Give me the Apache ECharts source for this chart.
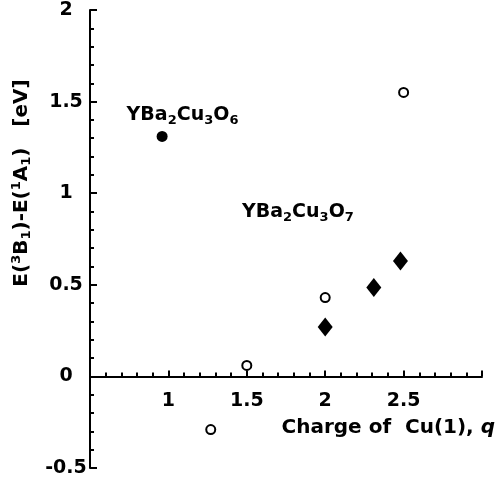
<!DOCTYPE html>
<html>
<head>
<meta charset="utf-8">
<script src="https://cdn.jsdelivr.net/npm/echarts@6/dist/echarts.min.js"></script>
<style>html,body{margin:0;padding:0;background:#fff}#c{width:497px;height:484px}</style>
</head>
<body>
<div id="c"></div>
<script>
// ---- data ----
const xRange = [0.5, 3.0];
const yRange = [-0.5, 2.0];
const xTickLabels = ['1', '1.5', '2', '2.5'];
const yTickLabels = ['-0.5', '0', '0.5', '1', '1.5', '2'];
const ybco6Points = [[0.96, 1.31]];                         // filled circle
const openCirclePoints = [[1.27, -0.29], [1.5, 0.06], [2.0, 0.43], [2.5, 1.55]];
const diamondPoints = [[2.0, 0.27], [2.31, 0.485], [2.48, 0.63]];
const annotationPositions = [[1.09, 1.425], [1.826, 0.895]];
const annotationTexts = [
  '{m|YBa}{s|2}{m|Cu}{s|3}{m|O}{s|6}',
  '{m|YBa}{s|2}{m|Cu}{s|3}{m|O}{s|7}'
];

const FONT = 'DejaVu Sans';
const GRID = {left: 90, right: 15, top: 10, bottom: 16};
const gridH = 484 - GRID.top - GRID.bottom;
// move x axis up to y = 0
const xAxisOffset = -gridH * (0 - yRange[0]) / (yRange[1] - yRange[0]);

const chemRich = {
  m: {fontFamily: FONT, fontWeight: 'bold', fontSize: 19, color: '#000'},
  s: {fontFamily: FONT, fontWeight: 'bold', fontSize: 13, color: '#000', padding: [10, 0, 0, 0]}
};

const chart = echarts.init(document.getElementById('c'));
chart.setOption({
  animation: false,
  backgroundColor: '#fff',
  grid: Object.assign({containLabel: false, outerBoundsMode: 'none'}, GRID),
  xAxis: {
    type: 'value', min: xRange[0], max: xRange[1], interval: 0.5,
    position: 'bottom', offset: xAxisOffset,
    axisLine: {onZero: false, lineStyle: {color: '#000', width: 2}},
    axisTick: {inside: true, length: 6, lineStyle: {color: '#000', width: 2}},
    minorTick: {show: true, splitNumber: 5, length: 4, lineStyle: {color: '#000', width: 2}},
    splitLine: {show: false},
    axisLabel: {
      margin: 15, color: '#000', fontFamily: FONT, fontWeight: 'bold', fontSize: 19,
      formatter: v => { const s = String(v); return xTickLabels.includes(s) ? s : ''; }
    }
  },
  yAxis: {
    type: 'value', min: yRange[0], max: yRange[1], interval: 0.5,
    axisLine: {onZero: false, lineStyle: {color: '#000', width: 2}},
    axisTick: {inside: true, length: 7, lineStyle: {color: '#000', width: 2}},
    minorTick: {show: true, splitNumber: 5, length: 4, lineStyle: {color: '#000', width: 2}},
    splitLine: {show: false},
    axisLabel: {
      margin: 24, align: 'center', padding: [4, 0, 0, 0], color: '#000', fontFamily: FONT, fontWeight: 'bold', fontSize: 19,
      formatter: v => { const s = String(v); return yTickLabels.includes(s) ? s : ''; }
    }
  },
  series: [
    {type: 'scatter', data: ybco6Points, symbol: 'circle', symbolSize: 11,
     itemStyle: {color: '#000', opacity: 1}},
    {type: 'scatter', data: openCirclePoints, symbol: 'circle', symbolSize: 9,
     itemStyle: {color: '#fff', borderColor: '#000', borderWidth: 2, opacity: 1}},
    {type: 'scatter', data: diamondPoints, symbol: 'diamond', symbolSize: [15, 19],
     itemStyle: {color: '#000', opacity: 1}},
    {type: 'scatter', symbolSize: 0, silent: true,
     data: annotationPositions.map((p, i) => ({value: p, label: {formatter: annotationTexts[i]}})),
     itemStyle: {opacity: 1},
     label: {show: true, position: 'inside', color: '#000', textBorderWidth: 0, rich: chemRich}}
  ],
  graphic: [
    {type: 'text', x: 22, y: 183, rotation: Math.PI / 2,
     style: {
       text: '{m|E(}{p|3}{m|B}{s|1}{m|)-E(}{p|1}{m|A}{s|1}{m|)   [eV]}',
       align: 'center', verticalAlign: 'middle',
       rich: {
         m: {fontFamily: FONT, fontWeight: 'bold', fontSize: 20, fill: '#000'},
         s: {fontFamily: FONT, fontWeight: 'bold', fontSize: 13, fill: '#000', padding: [10, 0, 0, 0]},
         p: {fontFamily: FONT, fontWeight: 'bold', fontSize: 13, fill: '#000', padding: [0, 0, 10, 0]}
       }
     }},
    {type: 'text', x: 495, y: 428,
     style: {
       text: '{m|Charge of  Cu(1), }{i|q}',
       align: 'right', verticalAlign: 'middle',
       rich: {
         m: {fontFamily: FONT, fontWeight: 'bold', fontSize: 20, fill: '#000'},
         i: {fontFamily: FONT, fontWeight: 'bold', fontStyle: 'italic', fontSize: 20, fill: '#000'}
       }
     }}
  ]
});
</script>
</body>
</html>
